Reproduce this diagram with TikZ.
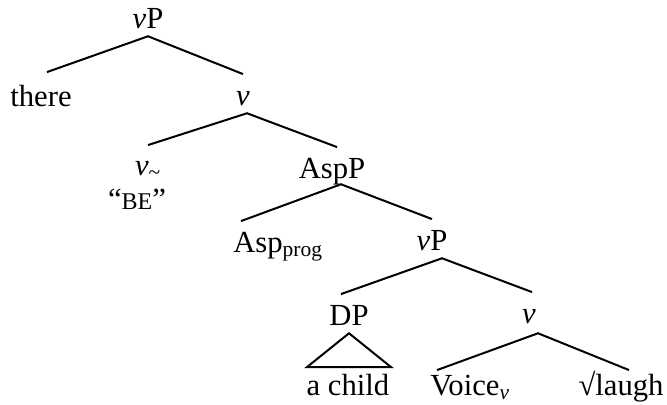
\documentclass[tikz,border=0pt]{standalone}
\usepackage{fontspec}
\setmainfont{Liberation Serif}
\usetikzlibrary{calc}

\begin{document}
\begin{tikzpicture}[x=0.75pt,y=-0.75pt]
\tikzset{cat/.style={anchor=base, inner sep=0pt, text height=23pt, text depth=6pt, font=\fontsize{23}{27}\selectfont}}
\tikzset{branch/.style={line width=1.5pt}}
\useasboundingbox (0,0) rectangle (667,404);
\node[cat] (vPtop) at (148,28) {\textit{v}P};
\node[cat] (there) at (41,106) {there};
\node[cat] (vhi) at (243,105) {\textit{v}};
\node[cat] (vbe) at (148,175) {\textit{v}\textsubscript{\textasciitilde}};
\node[cat, text height=14pt, text depth=2pt] (be) at (137,209) {``{\fontsize{18}{20}\selectfont BE}''};
\node[cat] (AspP) at (332,178) {AspP};
\node[cat] (Asp) at (278,252) {Asp\textsubscript{prog}};
\node[cat] (vPlow) at (432,250) {\textit{v}P};
\node[cat] (DP) at (349,325) {DP};
\node[cat] (vlow) at (529,323) {\textit{v}};
\node[cat] (child) at (348,395) {a child};
\node[cat] (voice) at (470,395) {Voice\textsubscript{\textit{v}}};
\node[cat] (laugh) at (621,395) {√laugh};
\draw[branch] ($(there.north)+(6,-3)$) -- (vPtop.south) -- (vhi.north);
\draw[branch] ($(vbe.north)+(0,1)$) -- ($(vhi.south)+(4,0)$) -- ($(AspP.north)+(5,0)$);
\draw[branch] ($(Asp.north)+(-37,0)$) -- ($(AspP.south)+(9,-2)$) -- (vPlow.north);
\draw[branch] ($(DP.north)+(-8,0)$) -- ($(vPlow.south)+(10,0)$) -- ($(vlow.north)+(3,0)$);
\draw[branch] (DP.south) -- ($(child.north)+(-41,3)$) -- ($(child.north)+(43,3)$) -- cycle;
\draw[branch] ($(voice.north)+(-33,6)$) -- ($(vlow.south)+(9,2)$) -- ($(laugh.north)+(8,6)$);
\end{tikzpicture}
\end{document}
